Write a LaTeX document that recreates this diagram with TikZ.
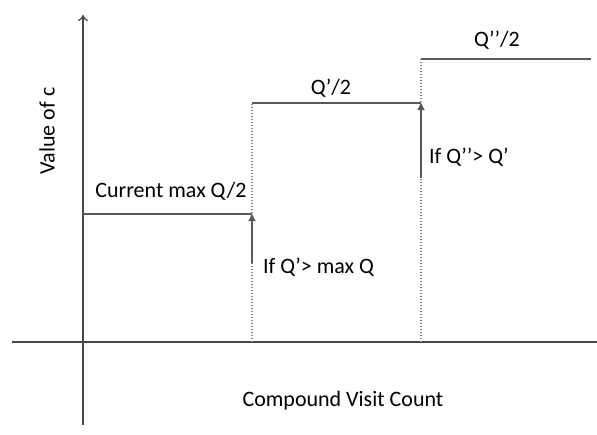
\documentclass[tikz,border=0pt]{standalone}
\usepackage{fontspec}
\setmainfont{Carlito}
\usetikzlibrary{arrows.meta}
\begin{document}
\begin{tikzpicture}[x=1pt,y=-1pt,
  axis/.style={draw=black!72,line width=1.3pt},
  stepline/.style={draw=black!65,line width=1.3pt},
  guide/.style={draw=black!50,line width=1.2pt,dash pattern=on 1.5pt off 1.5pt},
  rise/.style={draw=black!65,line width=1.3pt,-{Triangle[length=7pt,width=7pt]}},
  lbl/.style={font=\fontsize{22}{26}\selectfont,text=black,inner sep=0pt}]
\useasboundingbox (0,0) rectangle (597,434);
% axes
\coordinate (yb) at (83,425);
\coordinate (yt) at (83,15);
\coordinate (xl) at (12,342);
\coordinate (xr) at (597,342);
\draw[axis,-{To[length=6pt,width=10pt]}] (yb) -- (yt);
\draw[axis] (xl) -- (xr);
% steps
\coordinate (s0) at (83,214);
\coordinate (s1) at (252,214);
\coordinate (s1t) at (252,103);
\coordinate (s1b) at (252,342);
\coordinate (s2) at (421,103);
\coordinate (s2t) at (421,59);
\coordinate (s2b) at (421,342);
\coordinate (s3) at (591,59);
\draw[stepline] (s0) -- (s1);
\draw[stepline] (s1t) -- (s2);
\draw[stepline] (s2t) -- (s3);
\draw[guide] (s1b) -- (s1t);
\draw[guide] (s2b) -- (s2t);
% rises
\coordinate (r1) at (252,263);
\coordinate (r2) at (421,178);
\draw[rise] (r1) -- (s1);
\draw[rise] (r2) -- (s2);
% labels
\node[lbl,rotate=90] (yl) at (47,131) {Value of c};
\node[lbl] (xlab) at (343,401) {Compound Visit Count};
\node[lbl] (l0) at (171,191) {Current max Q/2};
\node[lbl] (l1) at (331,88) {Q’/2};
\node[lbl] (l2) at (497,40) {Q’’/2};
\node[lbl,anchor=west] (c1) at (263,267) {If Q’> max Q};
\node[lbl,anchor=west] (c2) at (429,157) {If Q’’> Q’};
\end{tikzpicture}
\end{document}
